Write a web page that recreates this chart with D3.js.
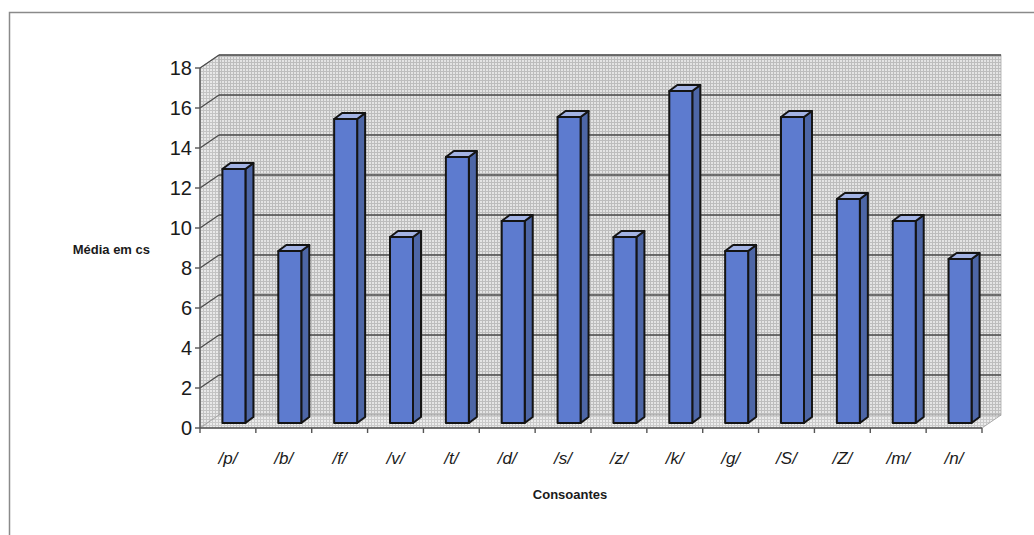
<!DOCTYPE html>
<html>
<head>
<meta charset="utf-8">
<script src="https://cdn.jsdelivr.net/npm/d3@7/dist/d3.min.js"></script>
<style>
  html, body { margin: 0; padding: 0; background: #ffffff; }
  svg { display: block; }
</style>
</head>
<body>
<svg id="chart" width="1034" height="535"></svg>
<script>
// Consonant durations (mean, in centiseconds)
const categories = ["/p/", "/b/", "/f/", "/v/", "/t/", "/d/", "/s/", "/z/", "/k/", "/g/", "/S/", "/Z/", "/m/", "/n/"];
const values = [12.7, 8.6, 15.2, 9.3, 13.3, 10.1, 15.3, 9.3, 16.6, 8.6, 15.3, 11.2, 10.1, 8.2];
const yTicks = [0, 2, 4, 6, 8, 10, 12, 14, 16, 18];
const yTitle = "Média em cs";
const xTitle = "Consoantes";

const svg = d3.select("#chart");
const font = "Arial, 'Liberation Sans', sans-serif";

// plot frame and pseudo-3D depth of the walls
const x = d3.scaleBand().domain(categories).range([200, 982]).paddingInner(0).paddingOuter(0);
const y = d3.scaleLinear().domain([0, 18]).range([428, 68]);
const depth = { dx: 19, dy: -13 };
const barOff = { dx: 6, dy: -5 };   // front face of the bars sits inside the depth
const barDepth = { dx: 8, dy: -6 };
const barW = 23;

// stippled wall textures
const defs = svg.append("defs");
function stipple(id, bg, dot) {
  const p = defs.append("pattern").attr("id", id).attr("patternUnits", "userSpaceOnUse")
    .attr("width", 3).attr("height", 3);
  p.append("rect").attr("width", 3).attr("height", 3).attr("fill", bg);
  p.append("rect").attr("width", 2).attr("height", 2).attr("fill", dot);
}
stipple("wallBack", "#bdbdbd", "#e4e4e4");
stipple("wallSide", "#c3c3c3", "#e8e8e8");
stipple("wallFloor", "#cacaca", "#ececec");

// outer chart-area border (open at right and bottom)
svg.append("path")
  .attr("d", "M9.5,535 L9.5,12.5 L1034,12.5")
  .attr("fill", "none").attr("stroke", "#8a8a8a").attr("stroke-width", 1.5);

const x0 = x.range()[0], x1 = x.range()[1];
const yTop = y(18), yBot = y(0);

// back wall
svg.append("rect")
  .attr("x", x0 + depth.dx).attr("y", yTop + depth.dy)
  .attr("width", x1 - x0).attr("height", yBot - yTop)
  .attr("fill", "url(#wallBack)").attr("stroke", "#a8a8a8").attr("stroke-width", 0.8);

// side wall
svg.append("path")
  .attr("d", `M${x0},${yBot} L${x0},${yTop} L${x0 + depth.dx},${yTop + depth.dy} L${x0 + depth.dx},${yBot + depth.dy} Z`)
  .attr("fill", "url(#wallSide)").attr("stroke", "#a8a8a8").attr("stroke-width", 0.8);

// floor
svg.append("path")
  .attr("d", `M${x0},${yBot} L${x1},${yBot} L${x1 + depth.dx},${yBot + depth.dy} L${x0 + depth.dx},${yBot + depth.dy} Z`)
  .attr("fill", "url(#wallFloor)").attr("stroke", "#9a9a9a").attr("stroke-width", 0.8);

// gridlines on back wall plus their slanted continuation on the side wall
const grid = svg.append("g");
yTicks.filter(t => t > 0).forEach(t => {
  const yy = y(t);
  grid.append("line")
    .attr("x1", x0 + depth.dx).attr("x2", x1 + depth.dx)
    .attr("y1", yy + depth.dy).attr("y2", yy + depth.dy)
    .attr("stroke", "#4a4a4a").attr("stroke-width", 1.4);
  grid.append("line")
    .attr("x1", x0).attr("x2", x0 + depth.dx)
    .attr("y1", yy).attr("y2", yy + depth.dy)
    .attr("stroke", "#4a4a4a").attr("stroke-width", 1.2);
});

// bars as prisms: front, side, top
const bars = svg.append("g");
categories.forEach((c, i) => {
  const v = values[i];
  const bx = x(c) + (x.bandwidth() - barW) / 2 + barOff.dx;
  const by0 = y(0) + barOff.dy;
  const by1 = y(v) + barOff.dy;
  const g = bars.append("g").attr("stroke", "#141414").attr("stroke-width", 2).attr("stroke-linejoin", "round");
  // side
  g.append("path")
    .attr("d", `M${bx + barW},${by0} L${bx + barW},${by1} L${bx + barW + barDepth.dx},${by1 + barDepth.dy} L${bx + barW + barDepth.dx},${by0 + barDepth.dy} Z`)
    .attr("fill", "#4d66a6");
  // top
  g.append("path")
    .attr("d", `M${bx},${by1} L${bx + barW},${by1} L${bx + barW + barDepth.dx},${by1 + barDepth.dy} L${bx + barDepth.dx},${by1 + barDepth.dy} Z`)
    .attr("fill", "#a3b3e4");
  // front
  g.append("rect")
    .attr("x", bx).attr("y", by1).attr("width", barW).attr("height", by0 - by1)
    .attr("fill", "#5d7bcf");
});

// y axis
const yAxis = svg.append("g");
yAxis.append("line").attr("x1", x0).attr("x2", x0).attr("y1", yTop).attr("y2", yBot)
  .attr("stroke", "#555").attr("stroke-width", 1.4);
yTicks.forEach(t => {
  yAxis.append("line").attr("x1", x0 - 5).attr("x2", x0).attr("y1", y(t)).attr("y2", y(t))
    .attr("stroke", "#555").attr("stroke-width", 1.4);
  yAxis.append("text").attr("x", x0 - 8).attr("y", y(t)).attr("dy", "0.36em")
    .attr("text-anchor", "end").attr("font-family", font).attr("font-size", 20)
    .attr("fill", "#1a1a1a").text(t);
});

// x axis
const xAxis = svg.append("g");
xAxis.append("line").attr("x1", x0).attr("x2", x1).attr("y1", yBot).attr("y2", yBot)
  .attr("stroke", "#555").attr("stroke-width", 1.4);
d3.range(categories.length + 1).forEach(i => {
  const xx = x0 + i * x.bandwidth();
  xAxis.append("line").attr("x1", xx).attr("x2", xx).attr("y1", yBot).attr("y2", yBot + 5)
    .attr("stroke", "#555").attr("stroke-width", 1.4);
});
categories.forEach(c => {
  xAxis.append("text").attr("x", x(c) + x.bandwidth() / 2).attr("y", 458).attr("dy", "0.35em")
    .attr("text-anchor", "middle").attr("font-family", font).attr("font-size", 17)
    .attr("font-style", "italic").attr("fill", "#1a1a1a").text(c);
});

// axis titles
svg.append("text").attr("x", 150).attr("y", 249).attr("dy", "0.35em")
  .attr("text-anchor", "end").attr("font-family", font).attr("font-size", 13)
  .attr("font-weight", "bold").attr("fill", "#1a1a1a").text(yTitle);
svg.append("text").attr("x", 570).attr("y", 494).attr("dy", "0.35em")
  .attr("text-anchor", "middle").attr("font-family", font).attr("font-size", 13)
  .attr("font-weight", "bold").attr("fill", "#1a1a1a").text(xTitle);
</script>
</body>
</html>
